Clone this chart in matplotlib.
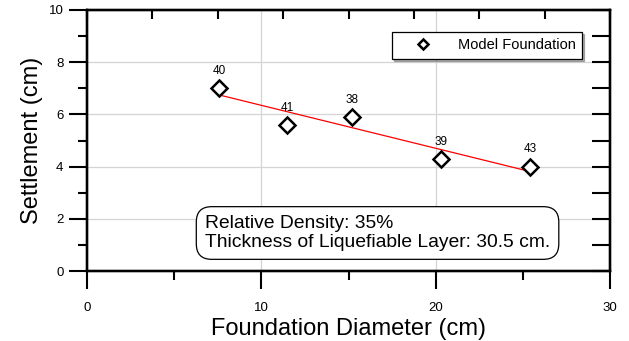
import matplotlib.pyplot as plt
import numpy as np

plt.rcParams['font.family'] = ['Liberation Sans', 'DejaVu Sans']

# Data
diameter = [7.6, 11.5, 15.2, 20.3, 25.4]
settlement = [7.0, 5.6, 5.9, 4.3, 4.0]
point_labels = ['40', '41', '38', '39', '43']

fig = plt.figure(figsize=(6.29, 3.41), dpi=100)
ax = fig.add_axes([87 / 629, 70 / 341, 523 / 629, 261 / 341])

# Linear fit through the points
k, b = np.polyfit(diameter, settlement, 1)
fit_x = np.array([min(diameter), max(diameter)])
ax.plot(fit_x, k * fit_x + b, color='red', lw=0.9, zorder=2)

ax.plot(diameter, settlement, 'D', ms=8.5, mfc='white', mec='black', mew=1.8,
        ls='none', zorder=3, label='Model Foundation')
for x, y, t in zip(diameter, settlement, point_labels):
    ax.annotate(t, (x, y), xytext=(0, 8), textcoords='offset points',
                ha='center', va='bottom', fontsize=8.5)

ax.set_xlim(0, 30)
ax.set_ylim(0, 10)
ax.set_xticks([0, 10, 20, 30])
ax.set_xticks([5, 15, 25], minor=True)
ax.set_yticks([0, 2, 4, 6, 8, 10])
ax.set_yticks([1, 3, 5, 7, 9], minor=True)
ax.grid(True, which='major', color='#d4d4d4', lw=0.9)
ax.set_axisbelow(True)

ax.tick_params(which='major', direction='out', length=13, width=1.5, labelsize=9.5, pad=4)
ax.tick_params(which='minor', direction='out', length=6.5, width=1.5)
ax.tick_params(axis='x', pad=9)
for s in ax.spines.values():
    s.set_linewidth(1.6)

# top and right ticks
axt = ax.twiny()
axt.set_xlim(0, 30)
axt.set_xticks(np.arange(0, 30.01, 3.75))
axt.tick_params(direction='in', length=6.5, width=1.5, labeltop=False)
axr = ax.twinx()
axr.set_ylim(0, 10)
axr.set_yticks(range(0, 11))
axr.tick_params(direction='in', length=13, width=1.5, labelright=False)
for a in (axt, axr):
    for s in a.spines.values():
        s.set_linewidth(1.6)

ax.set_xlabel('Foundation Diameter (cm)', fontsize=17, labelpad=3)
ax.set_ylabel('Settlement (cm)', fontsize=17, labelpad=4)

leg = ax.legend(loc='upper right', bbox_to_anchor=(0.9465, 0.916), borderaxespad=0,
                fontsize=10.5, frameon=True, fancybox=False,
                shadow=dict(ox=1.5, oy=-1.5, color='#666666'),
                edgecolor='black', handlelength=3.4, handletextpad=0.65,
                borderpad=0.45, markerscale=0.6)
leg.get_frame().set_linewidth(0.9)
leg.set_zorder(10)

ax.text(0.2256, 0.1456, 'Relative Density: 35%\nThickness of Liquefiable Layer: 30.5 cm.',
        transform=ax.transAxes, fontsize=13.9, ha='left', va='center', linespacing=1.1,
        bbox=dict(boxstyle='round,pad=0.45,rounding_size=0.8', fc='white', ec='black', lw=0.9),
        zorder=10)

fig.savefig('out.png', dpi=100)
